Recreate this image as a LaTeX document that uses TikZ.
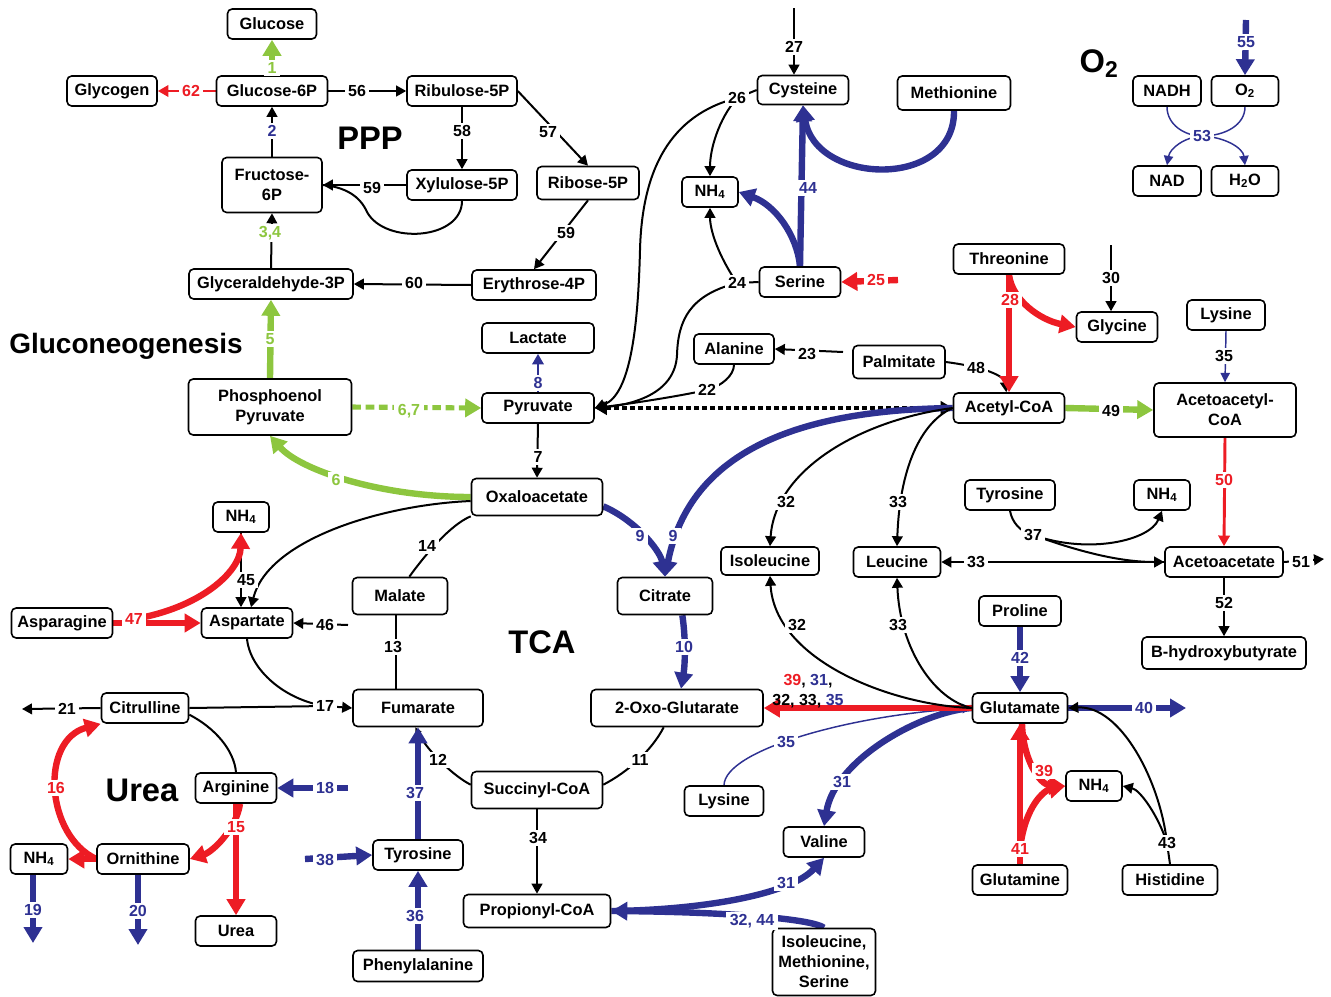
\documentclass[tikz,border=0pt]{standalone}
\usepackage{fontspec}
\setmainfont{Liberation Sans}
\usetikzlibrary{arrows.meta}
\definecolor{G}{RGB}{141,198,63}
\definecolor{R}{RGB}{237,28,36}
\definecolor{B}{RGB}{46,49,146}
\newcommand\nodefnt{\bfseries\fontsize{12.3}{15}\selectfont}
\newcommand\labfnt{\bfseries\fontsize{12}{15}\selectfont}
\newcommand\bigfnt{\bfseries\fontsize{24.5}{28}\selectfont}
\pgfdeclarelayer{edges}
\pgfsetlayers{edges,main}
\begin{document}
\begin{tikzpicture}[x=0.75pt,y=-0.75pt,
 box/.style={draw,line width=1.2pt,rounded corners=3.5pt,fill=white,align=center,font=\nodefnt,inner sep=0pt,minimum height=22.5pt},
 bw/.style={minimum width=#1*0.75pt},
 bh/.style={minimum height=#1*0.75pt},
 lab/.style={fill=white,inner xsep=2.6pt,inner ysep=1.6pt,font=\labfnt},
 thn/.style={line width=1.5pt},
 med/.style={line width=2.2pt},
 thk/.style={line width=4.8pt},
 bl/.style={line width=1.1pt},
 ta/.style={-{Triangle[width=8pt,length=7.5pt]}},
 ma/.style={-{Triangle[width=8.5pt,length=8pt]}},
 Ta/.style={-{Triangle[width=13.5pt,length=12pt]}},
 ba/.style={-{Triangle[width=7pt,length=7pt]}},
 sa/.style={-{Triangle[width=5pt,length=5pt]}},
 gdot/.style={line width=3.8pt,dash pattern=on 6.5pt off 3.5pt},
 kdot/.style={line width=3pt,dash pattern=on 3.5pt off 2.5pt}]
\useasboundingbox (0,0) rectangle (1331,996);

% ---------- boxes ----------
\node[box,bw=89] (glc) at (272,24) {Glucose};
\node[box,bw=90] (glycogen) at (112,91) {Glycogen};
\node[box,bw=111] (g6p) at (272,91) {Glucose-6P};
\node[box,bw=110] (ru5p) at (462,91) {Ribulose-5P};
\node[box,bw=110] (x5p) at (462,185) {Xylulose-5P};
\node[box,bw=102,bh=33] (r5p) at (588,183) {Ribose-5P};
\node[box,bw=100,bh=55] (f6p) at (272,185) {Fructose-\\6P};
\node[box,bw=164] (gap) at (271,284) {Glyceraldehyde-3P};
\node[box,bw=124] (e4p) at (534,285) {Erythrose-4P};
\node[box,bw=163,bh=56] (pep) at (270,407) {Phosphoenol\\Pyruvate};
\node[box,bw=112] (lac) at (538,338) {Lactate};
\node[box,bw=112] (pyr) at (538,408) {Pyruvate};
\node[box,bw=131,bh=37] (oaa) at (537,497) {Oxaloacetate};
\node[box,bw=95,bh=37] (cit) at (665,596) {Citrate};
\node[box,bw=80] (ala) at (734,349) {Alanine};
\node[box,bw=92,bh=33] (palm) at (899,362) {Palmitate};
\node[box,bw=98,bh=28] (ile) at (770,561) {Isoleucine};
\node[box,bw=87] (leu) at (897,562) {Leucine};
\node[box,bw=111] (accoa) at (1009,408) {Acetyl-CoA};
\node[box,bw=142,bh=54] (acacoa) at (1225,410) {Acetoacetyl-\\CoA};
\node[box,bw=90] (tyrR) at (1010,495) {Tyrosine};
\node[box,bw=56] (nh4R) at (1162,495) {NH\textsubscript{4}};
\node[box,bw=118] (acac) at (1224,562) {Acetoacetate};
\node[box,bw=164,bh=32] (bhb) at (1224,653) {B-hydroxybutyrate};
\node[box,bw=82] (pro) at (1020,611) {Proline};
\node[box,bw=111] (thr) at (1009,259) {Threonine};
\node[box,bw=81] (gly) at (1117,327) {Glycine};
\node[box,bw=78] (lysR) at (1226,315) {Lysine};
\node[box,bw=113,bh=34] (met) at (954,93) {Methionine};
\node[box,bw=68] (nadh) at (1167,91) {NADH};
\node[box,bw=67] (o2) at (1245,91) {O\textsubscript{2}};
\node[box,bw=68] (nad) at (1167,181) {NAD};
\node[box,bw=67] (h2o) at (1245,181) {H\textsubscript{2}O};
\node[box,bw=91,bh=29] (cys) at (803,90) {Cysteine};
\node[box,bw=56] (nh4T) at (710,192) {NH\textsubscript{4}};
\node[box,bw=81] (ser) at (800,282) {Serine};
\node[box,bw=56] (nh4A) at (241,517) {NH\textsubscript{4}};
\node[box,bw=101] (asn) at (62,623) {Asparagine};
\node[box,bw=91] (asp) at (247,623) {Aspartate};
\node[box,bw=95,bh=37] (mal) at (400,596) {Malate};
\node[box,bw=130,bh=37] (fum) at (418,708) {Fumarate};
\node[box,bw=87] (citr) at (145,708) {Citrulline};
\node[box,bw=81] (arg) at (236,788) {Arginine};
\node[box,bw=92] (orn) at (143,859) {Ornithine};
\node[box,bw=57] (nh4L) at (39,859) {NH\textsubscript{4}};
\node[box,bw=81] (urea) at (236,931) {Urea};
\node[box,bw=90] (tyrL) at (418,855) {Tyrosine};
\node[box,bw=130,bh=31] (phe) at (418,966) {Phenylalanine};
\node[box,bw=131,bh=37] (succ) at (537,790) {Succinyl-CoA};
\node[box,bw=147,bh=33] (prop) at (537,911) {Propionyl-CoA};
\node[box,bw=172,bh=37] (akg) at (677,708) {2-Oxo-Glutarate};
\node[box,bw=79] (lysL) at (724,801) {Lysine};
\node[box,bw=81] (val) at (824,842) {Valine};
\node[box,bw=103,bh=67] (ims) at (824,962) {Isoleucine,\\Methionine,\\Serine};
\node[box,bw=95] (glu) at (1020,708) {Glutamate};
\node[box,bw=56] (nh4G) at (1094,786) {NH\textsubscript{4}};
\node[box,bw=95] (gln) at (1020,880) {Glutamine};
\node[box,bw=95] (his) at (1170,880) {Histidine};

% ---------- big titles ----------
\node[font=\bigfnt,inner sep=0pt] (tPPP) at (370,138) {PPP};
\node[font=\bfseries\fontsize{21}{24}\selectfont,inner sep=0pt] (tGlu) at (126,346) {Gluconeogenesis};
\node[font=\bigfnt,inner sep=0pt] (tTCA) at (542,642) {TCA};
\node[font=\bigfnt,inner sep=0pt] (tUrea) at (142,790) {Urea};
\node[font=\bigfnt,inner sep=0pt] (tO2) at (1099,64) {O\textsubscript{2}};

% ---------- reaction labels ----------
\node[lab,text=G] (n1) at (272,68) {1};
\node[lab,text=B] (n2) at (272,131) {2};
\node[lab,text=G] (n34) at (270,233) {3,4};
\node[lab,text=G] (n5) at (270,339) {5};
\node[lab,text=G] (n6) at (336,480) {6};
\node[lab,text=G] (n67) at (409,411) {6,7};
\node[lab] (n7) at (538,457) {7};
\node[lab,text=B] (n8) at (538,383) {8};
\node[lab,text=B] (n9a) at (640,536) {9};
\node[lab,text=B] (n9b) at (673,536) {9};
\node[lab,text=B] (n10) at (684,647) {10};
\node[lab] (n11) at (640,760) {11};
\node[lab] (n12) at (438,760) {12};
\node[lab] (n13) at (393,647) {13};
\node[lab] (n14) at (427,546) {14};
\node[lab] (n45) at (246,580) {45};
\node[lab] (n46) at (325,625) {46};
\node[lab,text=R] (n47) at (134,619) {47};
\node[lab] (n17) at (325,706) {17};
\node[lab] (n21) at (67,709) {21};
\node[lab,text=R] (n16) at (56,788) {16};
\node[lab,text=R] (n15) at (236,827) {15};
\node[lab,text=B] (n18) at (325,788) {18};
\node[lab,text=B] (n19) at (33,910) {19};
\node[lab,text=B] (n20) at (138,911) {20};
\node[lab,text=B] (n37L) at (415,793) {37};
\node[lab,text=B] (n38) at (325,860) {38};
\node[lab,text=B] (n36) at (415,916) {36};
\node[lab] (n34r) at (538,838) {34};
\node[lab,text=B] (n31v) at (786,883) {31};
\node[lab,text=B] (n3244) at (752,921) {32, 44};
\node[lab,text=B] (n31g) at (842,782) {31};
\node[lab,text=B] (n35g) at (786,742) {35};
\node[font=\labfnt,align=center,inner sep=0pt] (nmix) at (808,691) {\textcolor{R}{39}, \textcolor{B}{31},\\32, 33, \textcolor{B}{35}};
\node[lab] (n32g) at (797,625) {32};
\node[lab] (n33g) at (898,625) {33};
\node[lab,text=B] (n42) at (1020,658) {42};
\node[lab,text=B] (n40) at (1144,708) {40};
\node[lab,text=R] (n41) at (1020,849) {41};
\node[lab,text=R] (n39) at (1044,771) {39};
\node[lab] (n43) at (1167,843) {43};
\node[lab] (n33r) at (976,562) {33};
\node[lab] (n37r) at (1033,535) {37};
\node[lab,text=R] (n50) at (1224,480) {50};
\node[lab] (n51) at (1301,562) {51};
\node[lab] (n52) at (1224,603) {52};
\node[lab] (n49) at (1111,411) {49};
\node[lab] (n35r) at (1224,356) {35};
\node[lab] (n48) at (976,368) {48};
\node[lab,text=R] (n28) at (1010,300) {28};
\node[lab] (n30) at (1111,278) {30};
\node[lab] (n32a) at (786,502) {32};
\node[lab] (n33a) at (898,502) {33};
\node[lab] (n22) at (707,390) {22};
\node[lab] (n23) at (807,354) {23};
\node[lab] (n24) at (737,283) {24};
\node[lab] (n26) at (737,98) {26};
\node[lab] (n27) at (794,47) {27};
\node[lab,text=B] (n44) at (808,188) {44};
\node[lab,text=R] (n25) at (876,280) {25};
\node[lab,text=B] (n53) at (1202,136) {53};
\node[lab,text=B] (n55) at (1246,42) {55};
\node[lab] (n56) at (357,91) {56};
\node[lab,text=R] (n62) at (191,91) {62};
\node[lab] (n58) at (462,131) {58};
\node[lab] (n57) at (548,132) {57};
\node[lab] (n59a) at (566,233) {59};
\node[lab] (n59b) at (372,188) {59};
\node[lab] (n60) at (414,283) {60};

% ---------- free ends ----------
\coordinate (e46) at (348,625);
\coordinate (e21) at (22,709);
\coordinate (e18) at (348,788);
\coordinate (e19) at (33,943);
\coordinate (e20) at (138,945);
\coordinate (e38) at (305,859);
\coordinate (e40) at (1186,708);
\coordinate (e51) at (1324,559);
\coordinate (e30) at (1111,245);
\coordinate (e23) at (843,352);
\coordinate (e27) at (794,8);
\coordinate (e25) at (898,280);
\coordinate (e55) at (1246,20);

\begin{pgfonlayer}{edges}
% PPP / glycolysis
\draw[G,thk,Ta] (g6p.north) -- (glc.south);
\draw[thn,ta] (f6p.north) -- (g6p.south);
\draw[thn,ta] (gap.north) -- (f6p.south);
\draw[G,thk,Ta] (pep.north) -- (gap.south);
\draw[R,med,ma] (g6p.west) -- (glycogen.east);
\draw[thn,ta] (g6p.east) -- (ru5p.west);
\draw[thn,ta] (ru5p.south) -- (x5p.north);
\draw[thn,ta] (ru5p.east) -- (r5p.north);
\draw[thn,ta] (r5p.south) -- (e4p.north);
\draw[thn,ta] (x5p.west) -- (f6p.east);
\draw[thn] (x5p.south) .. controls (462,240) and (385,245) .. (367,212) .. controls (360,196) and (345,187) .. (f6p.east);
\draw[thn,ta] (e4p.west) -- (gap.east);
% gluconeogenesis
\draw[G,thk,Ta] (oaa.west) .. controls (380,497) and (300,470) .. (pep.south);
\draw[G,gdot,Ta] (pep.east) -- (pyr.west);
\draw[thn,ta] (pyr.south) -- (oaa.north);
\draw[B,med,ma] (pyr.north) -- (lac.south);
\draw[kdot,{Triangle[width=10pt,length=9pt]}-{Triangle[width=10pt,length=9pt]}] (pyr.east) -- (accoa.west);
% TCA
\draw[B,thk,Ta] ([yshift=-7pt]oaa.east) .. controls (635,520) and (660,550) .. (cit.north);
\draw[B,thk,Ta] (accoa.west) .. controls (800,410) and (690,450) .. (cit.north);
\draw[B,thk,Ta] ([xshift=13pt]cit.south) .. controls (686,640) and (685,665) .. ([xshift=3pt]akg.north);
\draw[thn] ([xshift=-10pt]akg.south) .. controls (652,750) and (628,772) .. ([yshift=4pt]succ.east);
\draw[thn,sa] ([yshift=4pt]succ.west) .. controls (455,777) and (428,752) .. ([xshift=-2pt]fum.south);
\draw[thn] ([xshift=-16.5pt]fum.north) -- ([xshift=-3pt]mal.south);
\draw[thn] ([xshift=7pt]mal.north) .. controls (425,555) and (450,525) .. (oaa.south west);
\draw[thn,ta] ([yshift=-3pt]oaa.west) .. controls (380,505) and (268,540) .. ([xshift=3pt]asp.north);
\draw[thn,ta] (nh4A.south) -- ([xshift=-4.5pt]asp.north);
\draw[R,thk,Ta] (asn.east) -- (asp.west);
\draw[R,thk,Ta] (n47.center) .. controls (200,608) and (240,572) .. (nh4A.south);
\draw[thn,ta] (e46) -- (asp.east);
\draw[thn] (asp.south) .. controls (250,670) and (285,700) .. (n17.center);
\draw[thn] (citr.east) -- (n17.center);
\draw[thn,ta] (n17.center) -- (fum.west);
% urea cycle
\draw[thn,ta] (citr.west) -- (e21);
\draw[thn] ([yshift=-5pt]citr.east) .. controls (215,728) and (234,750) .. (arg.north);
\draw[R,thk,Ta] (orn.west) .. controls (45,835) and (40,740) .. (citr.south west);
\draw[R,thk,Ta] (orn.west) -- (nh4L.east);
\draw[R,thk,Ta] (arg.south) -- (urea.north);
\draw[R,thk,Ta] ([xshift=3pt]arg.south) .. controls (236,830) and (212,852) .. (orn.east);
\draw[B,thk,Ta] (e18) -- (arg.east);
\draw[B,thk,Ta] ([xshift=-4.5pt]nh4L.south) -- (e19);
\draw[B,thk,Ta] ([xshift=-3.75pt]orn.south) -- (e20);
\draw[B,thk,Ta] (tyrL.north) -- (fum.south);
\draw[B,thk,Ta] (e38) -- (tyrL.west);
\draw[B,thk,Ta] (phe.north) -- (tyrL.south);
\draw[thn,ta] (succ.south) -- (prop.north);
% propionyl / valine
\draw[B,thk,Ta] (prop.east) .. controls (700,910) and (790,895) .. (val.south);
\draw[B,thk,Ta] (ims.north) .. controls (810,918) and (720,912) .. (prop.east);
\draw[B,thk,Ta] (glu.west) .. controls (920,712) and (835,760) .. (val.north);
\draw[B,bl,ba] (lysL.north) .. controls (725,750) and (850,715) .. (glu.west);
\draw[R,thk,Ta] (glu.west) -- (akg.east);
\draw[thn,ta] (glu.west) .. controls (890,705) and (775,660) .. (ile.south);
\draw[thn,ta] (glu.west) .. controls (935,700) and (900,650) .. (leu.south);
\draw[B,thk,Ta] (pro.south) -- (glu.north);
\draw[B,thk,Ta] (glu.east) -- (e40);
\draw[R,thk,Ta] (gln.north) -- (glu.south);
\draw[R,thk,Ta] ([xshift=1.5pt]glu.south) .. controls (1023,760) and (1040,785) .. (nh4G.west);
\draw[R,thk,Ta] (n41.center) .. controls (1025,805) and (1045,790) .. (nh4G.west);
\draw[thn] (his.north) -- (n43.center);
\draw[thn,ta] (n43.center) .. controls (1160,780) and (1120,705) .. (glu.east);
\draw[thn,ta] (n43.center) .. controls (1158,815) and (1140,790) .. (nh4G.east);
% ketone bodies
\draw[thn,ta] (acac.west) -- (leu.east);
\draw[thn] (tyrR.south) .. controls (1012,522) and (1020,532) .. (n37r.center);
\draw[thn,ta] (n37r.center) .. controls (1090,555) and (1150,540) .. (nh4R.south);
\draw[thn,ta] (n37r.center) .. controls (1080,552) and (1120,562) .. (acac.west);
\draw[R,med,ma] (acacoa.south) -- (acac.north);
\draw[thn,ta] (acac.east) -- (e51);
\draw[thn,ta] (acac.south) -- (bhb.north);
\draw[G,thk,Ta] (accoa.east) -- (acacoa.west);
\draw[B,bl,ba] (lysR.south) -- (acacoa.north);
\draw[thn,ta] (palm.east) .. controls (992,368) and (1005,378) .. ([xshift=-2pt]accoa.north);
\draw[R,thk,Ta] (thr.south) -- (accoa.north);
\draw[R,thk,Ta] (thr.south) .. controls (1012,300) and (1040,320) .. (gly.west);
\draw[thn,ta] (e30) -- ([xshift=-4.5pt]gly.north);
\draw[thn,ta] (accoa.west) .. controls (860,420) and (775,470) .. (ile.north);
\draw[thn,ta] (accoa.west) .. controls (925,420) and (900,460) .. (leu.north);
% amino acids to pyruvate
\draw[thn] (ala.south) .. controls (734,375) and (722,386) .. (n22.center);
\draw[thn,ta] (n22.center) .. controls (670,398) and (620,405) .. (pyr.east);
\draw[thn,ta] (e23) -- (ala.east);
\draw[thn] (ser.west) -- (n24.center);
\draw[thn,ta] (n24.center) .. controls (718,255) and (710,230) .. (nh4T.south);
\draw[thn,ta] (n24.center) .. controls (690,295) and (678,320) .. (677,355) .. controls (675,395) and (630,405) .. (pyr.east);
\draw[thn] (cys.west) -- (n26.center);
\draw[thn,ta] (n26.center) .. controls (718,120) and (710,150) .. (nh4T.north);
\draw[thn,ta] (n26.center) .. controls (670,115) and (642,170) .. (640,250) .. controls (638,330) and (630,395) .. (pyr.east);
\draw[thn,ta] (e27) -- ([xshift=-6.75pt]cys.north);
\draw[B,thk,Ta] (ser.north) -- (cys.south);
\draw[B,thk,Ta] (ser.north) .. controls (797,235) and (775,205) .. (nh4T.east);
\draw[B,thk,Ta] (met.south) .. controls (955,190) and (815,185) .. (cys.south);
\draw[R,thk,Ta] (e25) -- (ser.east);
% respiration
\draw[B,bl] (nadh.south) .. controls (1167,125) and (1185,136) .. (n53.center);
\draw[B,bl] (o2.south) .. controls (1245,125) and (1225,136) .. (n53.center);
\draw[B,bl,ba] (n53.center) .. controls (1185,137) and (1170,148) .. (nad.north);
\draw[B,bl,ba] (n53.center) .. controls (1225,137) and (1243,148) .. (h2o.north);
\draw[B,thk,Ta] (e55) -- (o2.north);
\end{pgfonlayer}
\end{tikzpicture}
\end{document}
